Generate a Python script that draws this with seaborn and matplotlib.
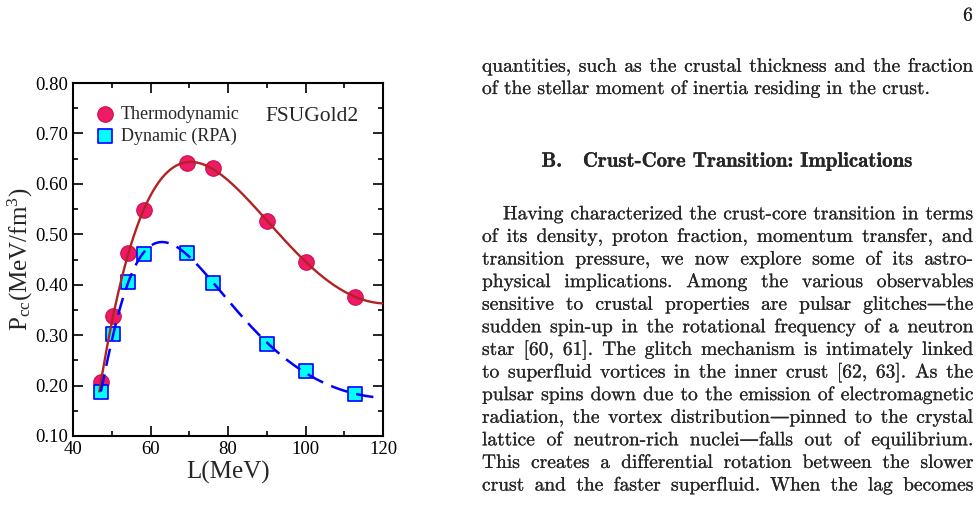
# Pcc vs L for FSUGold2 family + surrounding page text

import numpy as np
import matplotlib
matplotlib.use("Agg")
import matplotlib.pyplot as plt
import matplotlib.patheffects as pe
from matplotlib.ticker import MultipleLocator, FormatStrFormatter
import seaborn as sns

# values
L_models = [47.2, 50.4, 54.2, 58.2, 69.3, 76.1, 90.0, 100.0, 112.8]
P_thermo = [0.208, 0.337, 0.462, 0.548, 0.641, 0.631, 0.527, 0.446, 0.376]
P_rpa = [0.188, 0.302, 0.405, 0.461, 0.463, 0.404, 0.283, 0.228, 0.183]

page_number = "6"
para1 = [
    "quantities, such as the crustal thickness and the fraction",
    "of the stellar moment of inertia residing in the crust.",
]
heading = "B.   Crust-Core Transition: Implications"
para2 = [
    "Having characterized the crust-core transition in terms",
    "of its density, proton fraction, momentum transfer, and",
    "transition pressure, we now explore some of its astro-",
    "physical implications.  Among the various observables",
    "sensitive to crustal properties are pulsar glitches\u2014the",
    "sudden spin-up in the rotational frequency of a neutron",
    "star [60, 61].  The glitch mechanism is intimately linked",
    "to superfluid vortices in the inner crust [62, 63].  As the",
    "pulsar spins down due to the emission of electromagnetic",
    "radiation, the vortex distribution\u2014pinned to the crystal",
    "lattice of neutron-rich nuclei\u2014falls out of equilibrium.",
    "This creates a differential rotation between the slower",
    "crust and the faster superfluid.  When the lag becomes",
]

sns.set_style("ticks")
plt.rcParams["font.family"] = ["Liberation Serif", "DejaVu Serif"]
plt.rcParams["mathtext.fontset"] = "custom"
plt.rcParams["mathtext.rm"] = "Liberation Serif"
plt.rcParams["mathtext.it"] = "Liberation Serif:italic"

W, H = 979, 508
fig = plt.figure(figsize=(W / 100, H / 100), dpi=100)
ax = fig.add_axes([73 / W, 1 - 436 / H, 310 / W, 353 / H])

# smooth fits through the model points
Lm = np.array(L_models)
grid_t = np.linspace(Lm[0] - 0.4, 120, 300)
fit_t = np.polyval(np.polyfit(Lm, P_thermo, 5), grid_t)
grid_r = np.linspace(Lm[0], 118.5, 300)
fit_r = np.polyval(np.polyfit(1 / Lm, P_rpa, 5), 1 / grid_r)

sns.scatterplot(x=L_models, y=P_thermo, ax=ax, marker="o", s=125,
                color="#EE1A66", edgecolor="#CC1050", linewidth=0.8,
                label="Thermodynamic", zorder=2)
sns.scatterplot(x=L_models, y=P_rpa, ax=ax, marker="s", s=90,
                color="#00FFFF", edgecolor="#0000FF", linewidth=1.2,
                label="Dynamic (RPA)", zorder=2)
sns.lineplot(x=grid_t, y=fit_t, ax=ax, color="#B22222", lw=1.7, zorder=3)
sns.lineplot(x=grid_r, y=fit_r, ax=ax, color="#0000FF", lw=1.8,
             linestyle=(0, (7, 3.5)), zorder=3)

ax.set_xlim(40, 120)
ax.set_ylim(0.10, 0.80)
ax.xaxis.set_major_locator(MultipleLocator(20))
ax.xaxis.set_minor_locator(MultipleLocator(10))
ax.yaxis.set_major_locator(MultipleLocator(0.1))
ax.yaxis.set_minor_locator(MultipleLocator(0.05))
ax.yaxis.set_major_formatter(FormatStrFormatter("%.2f"))
ax.tick_params(which="both", direction="in", top=True, right=True,
               width=1.2, labelsize=13.5, colors="black")
ax.tick_params(which="major", length=7)
ax.tick_params(which="minor", length=3.5)
for sp in ax.spines.values():
    sp.set_linewidth(1.5)
    sp.set_color("black")

ax.set_xlabel("L(MeV)", fontsize=18, labelpad=2)
ax.set_ylabel(r"P$_{\rm cc}$(MeV/fm$^{\rm 3}$)", fontsize=18, labelpad=0)
ax.text(101.7, 0.733, "FSUGold2", fontsize=15.5, ha="center", va="center")
ax.legend(loc="upper left", bbox_to_anchor=(0.051, 0.955), borderaxespad=0,
          frameon=False, fontsize=13, handlelength=1.0, handletextpad=0.37,
          labelspacing=0.23, borderpad=0.4)

# page text on the right
renderer = fig.canvas.get_renderer()
fam = ["cmr10", "DejaVu Serif"]
fs = 14
ink = [pe.withStroke(linewidth=0.12, foreground="black")]


def put_line(text, x0, x1, base, justify=True):
    words = text.split()
    objs = [fig.text(0, 1 - base / H, w, fontsize=fs, family=fam,
                     va="baseline", path_effects=ink) for w in words]
    widths = [o.get_window_extent(renderer).width for o in objs]
    if justify and len(words) > 1:
        gap = (x1 - x0 - sum(widths)) / (len(words) - 1)
    else:
        gap = 0.333 * fs / 0.72
    x = x0
    for o, w in zip(objs, widths):
        o.set_x(x / W)
        x += w + gap


fig.text(973 / W, 1 - 20.5 / H, page_number, fontsize=fs, family=fam,
         ha="right", va="baseline", path_effects=ink)

left, right = 482, 973
put_line(para1[0], left, right, 71.7)
put_line(para1[1], left, right, 94.0, justify=False)
fig.text(727.5 / W, 1 - 166.7 / H, heading, fontsize=15,
         family=["cmb10", "DejaVu Serif"], ha="center", va="baseline",
         path_effects=ink)

base = 219.3
for i, line in enumerate(para2):
    x0 = left + 21 if i == 0 else left
    put_line(line, x0, right, base + i * 22.6)

fig.savefig("out.png", dpi=100)
